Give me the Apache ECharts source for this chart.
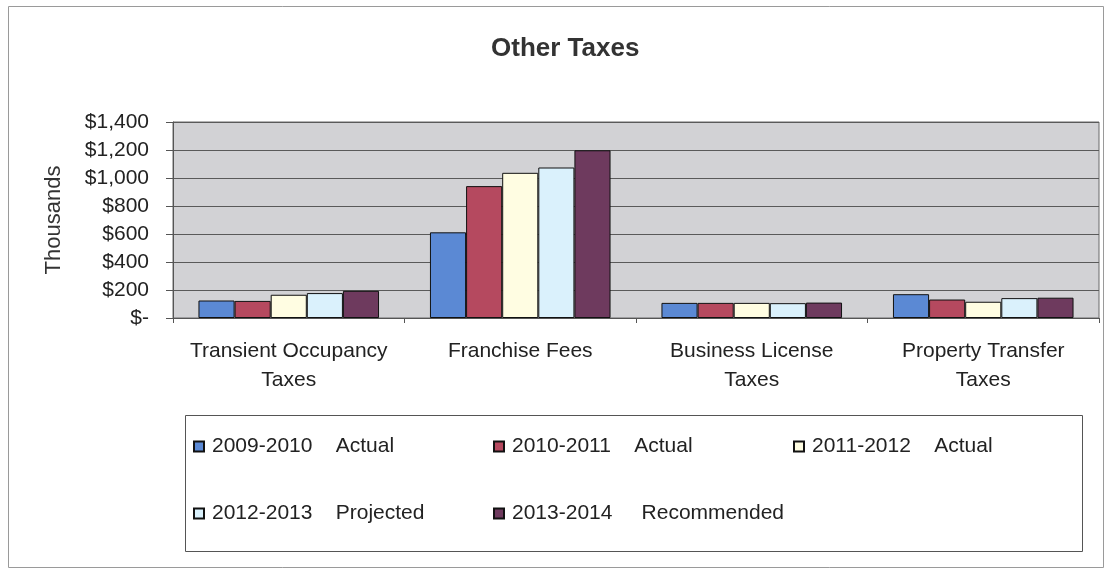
<!DOCTYPE html>
<html>
<head>
<meta charset="utf-8">
<script src="https://cdn.jsdelivr.net/npm/echarts@6/dist/echarts.min.js"></script>
<style>
  html, body { margin: 0; padding: 0; background: #ffffff; }
  #chart { width: 1105px; height: 569px; }
</style>
</head>
<body>
<div id="chart"></div>
<script>
// Other Taxes, in thousands of dollars
const categories = [
  'Transient Occupancy\nTaxes',
  'Franchise Fees',
  'Business License\nTaxes',
  'Property Transfer\nTaxes'
];
const seriesNames = [
  '2009-2010    Actual',
  '2010-2011    Actual',
  '2011-2012    Actual',
  '2012-2013    Projected',
  '2013-2014     Recommended'
];
const fy2009 = [125, 612, 108, 170];
const fy2010 = [122, 942, 108, 132];
const fy2011 = [166, 1037, 108, 116];
const fy2012 = [178, 1075, 106, 142];
const fy2013 = [194, 1198, 110, 145];
const yTicks = [0, 200, 400, 600, 800, 1000, 1200, 1400];

const seriesData = [fy2009, fy2010, fy2011, fy2012, fy2013];
const colors = ['#5b89d4', '#b5495f', '#fffde2', '#daf1fc', '#6e3a5e'];
const FONT = '"Liberation Sans", Arial, sans-serif';

// legend slots: three per row, 300px apart
const legendSlots = [
  { left: 188, top: 431 }, { left: 488, top: 431 }, { left: 788, top: 431 },
  { left: 188, top: 498 }, { left: 488, top: 498 }
];

const chart = echarts.init(document.getElementById('chart'), null, { renderer: 'canvas' });

chart.setOption({
  backgroundColor: '#ffffff',
  animation: false,
  color: colors,
  title: {
    text: 'Other Taxes',
    left: 486,
    top: 31,
    textStyle: { fontFamily: FONT, fontSize: 26, fontWeight: 'bold', color: '#333' }
  },
  graphic: [
    { type: 'rect', shape: { x: 8.5, y: 6.5, width: 1095, height: 561 },
      style: { fill: null, stroke: '#9a9a9a', lineWidth: 1 }, silent: true, z: -1 },
    { type: 'rect', shape: { x: 185.5, y: 415.5, width: 897, height: 136 },
      style: { fill: '#ffffff', stroke: '#555', lineWidth: 1 }, silent: true, z: 0 }
  ],
  legend: seriesNames.map((name, i) => ({
    data: [name],
    left: legendSlots[i].left,
    top: legendSlots[i].top,
    itemWidth: 10, itemHeight: 10,
    icon: 'rect',
    textStyle: { fontFamily: FONT, fontSize: 21, color: '#222', padding: [0, 0, 0, 3] },
    z: 5
  })),
  grid: {
    left: 173, right: 6, top: 122, bottom: 251,
    show: true,
    backgroundColor: '#d2d2d5',
    borderColor: '#6a6a6a',
    borderWidth: 1
  },
  xAxis: {
    type: 'category',
    data: categories,
    axisLine: { show: true, lineStyle: { color: '#555', width: 1 } },
    axisTick: { show: true, length: 5, alignWithLabel: false, lineStyle: { color: '#555' } },
    axisLabel: {
      margin: 19, interval: 0,
      fontFamily: FONT, fontSize: 21, lineHeight: 29, color: '#222', align: 'center'
    }
  },
  yAxis: {
    type: 'value',
    min: yTicks[0],
    max: yTicks[yTicks.length - 1],
    interval: yTicks[1] - yTicks[0],
    name: 'Thousands',
    nameLocation: 'middle',
    nameGap: 108,
    nameRotate: 90,
    nameTextStyle: { fontFamily: FONT, fontSize: 22, color: '#333' },
    axisLine: { show: true, lineStyle: { color: '#555', width: 1 } },
    axisTick: { show: true, inside: false, length: 7, lineStyle: { color: '#555' } },
    axisLabel: {
      margin: 24,
      fontFamily: FONT, fontSize: 21, color: '#222',
      formatter: v => v === 0 ? '$-' : '$' + v.toLocaleString('en-US')
    },
    splitLine: { show: true, lineStyle: { color: '#5a5a5a', width: 1 } }
  },
  series: seriesNames.map((name, i) => ({
    name: name,
    type: 'bar',
    data: seriesData[i],
    barGap: '0%',
    barCategoryGap: '22%',
    itemStyle: { color: colors[i], borderColor: '#111', borderWidth: 1 }
  }))
});
</script>
</body>
</html>
